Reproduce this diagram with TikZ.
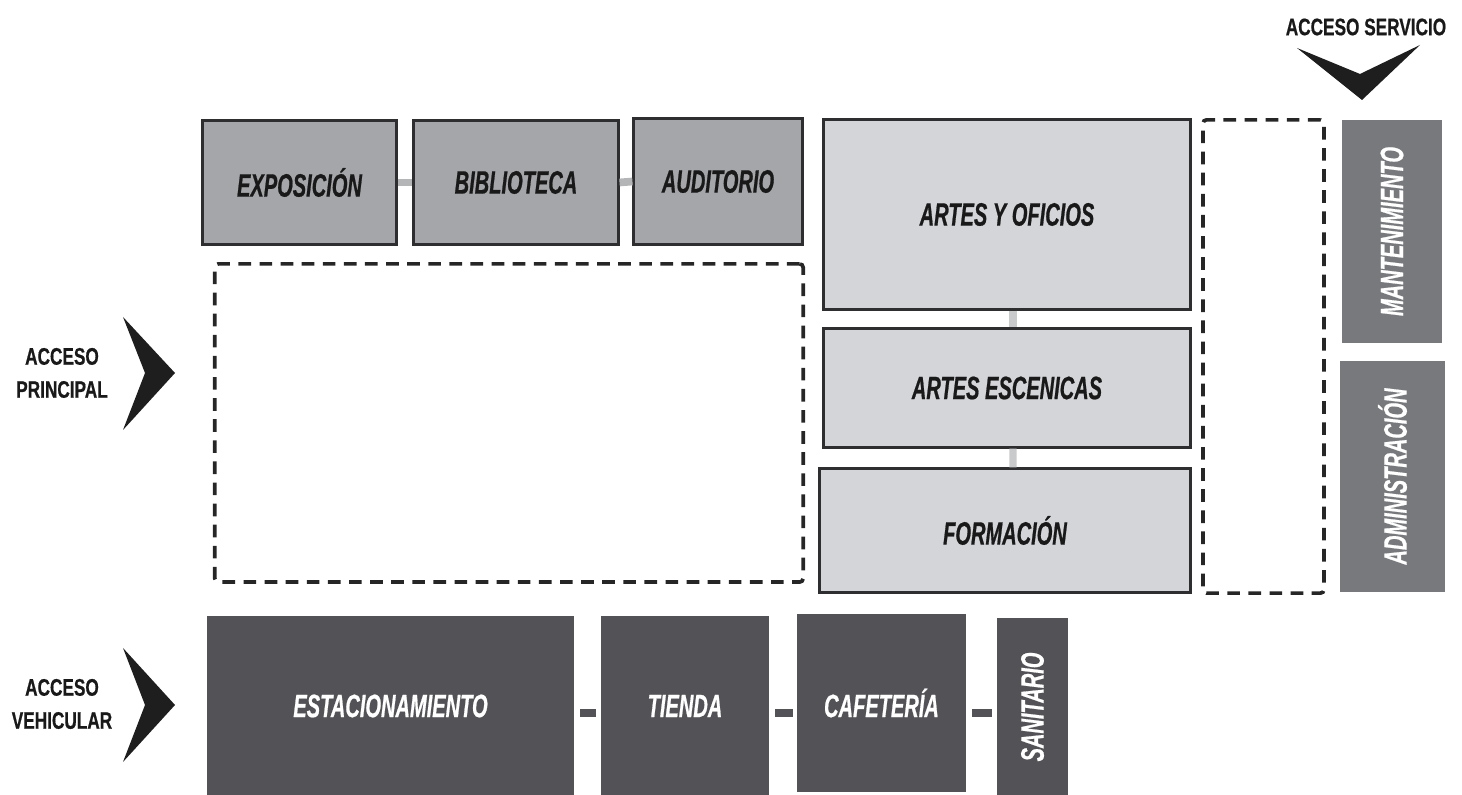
\documentclass[tikz,border=0pt]{standalone}
\usepackage{fontspec}
\newfontfamily\condfont{Liberation Sans}[FakeStretch=0.62,FakeBold=0.6]
\newfontfamily\labfont{Liberation Sans}[FakeStretch=0.72,FakeBold=0.6]
\definecolor{midgray}{HTML}{A4A6A9}
\definecolor{lightgray}{HTML}{D3D5D8}
\definecolor{sidegray}{HTML}{77797C}
\definecolor{darkbox}{HTML}{535357}
\definecolor{edgecol}{HTML}{2E2E30}
\definecolor{linkgray}{HTML}{B4B5B7}
\definecolor{linklight}{HTML}{C9CACC}
\definecolor{arrowcol}{HTML}{1E1E1E}
\begin{document}
\begin{tikzpicture}[x=0.01cm,y=-0.01cm,
  roomtxt/.style={font=\condfont\bfseries\itshape\fontsize{9.2}{10}\selectfont},
  topbox/.style={draw=edgecol,line width=0.85pt,fill=midgray,text=black!90,roomtxt,inner sep=0pt},
  artbox/.style={draw=edgecol,line width=0.85pt,fill=lightgray,text=black!90,roomtxt,inner sep=0pt},
  sidebox/.style={fill=sidegray,text=white,roomtxt,inner sep=0pt},
  lowbox/.style={fill=darkbox,text=white,roomtxt,inner sep=0pt},
  zone/.style={draw=black!85,line width=1.05pt,dash pattern=on 3.6pt off 2.4pt,rounded corners=1pt},
  link/.style={draw=linkgray,line width=2.2pt},
  vlink/.style={draw=linklight,line width=2pt},
  lowlink/.style={draw=darkbox,line width=2.2pt},
  acc/.style={font=\labfont\bfseries\fontsize{6.8}{9.4}\selectfont,align=center,text=black!90,inner sep=0pt},
  chev/.style={fill=arrowcol}]
\useasboundingbox (0,0) rectangle (1462,795);

% top row
\node[topbox,minimum width=1.93cm,minimum height=1.23cm] (expo) at (299.5,182.5) {EXPOSICIÓN};
\node[topbox,minimum width=2.04cm,minimum height=1.23cm] (bib) at (516,182.5) {BIBLIOTECA};
\node[topbox,minimum width=1.68cm,minimum height=1.25cm] (aud) at (718,181.5) {AUDITORIO};
\draw[link] (expo.east) -- (bib.west);
\draw[link] (bib.west -| bib.east) -- (aud.west);

% dashed zones
\node[zone,minimum width=5.88cm,minimum height=3.18cm] (zoneA) at (509,423) {};
\node[zone,minimum width=1.21cm,minimum height=4.73cm] (zoneB) at (1263.5,356.5) {};

% arts column
\node[artbox,minimum width=3.66cm,minimum height=1.89cm] (ayo) at (1007,214.5) {ARTES Y OFICIOS};
\node[artbox,minimum width=3.66cm,minimum height=1.18cm] (aes) at (1007,388) {ARTES ESCENICAS};
\node[artbox,minimum width=3.70cm,minimum height=1.23cm] (form) at (1005,530.5) {FORMACIÓN};
\draw[vlink] ([xshift=0.06cm]ayo.south) -- ([xshift=0.06cm]aes.north);
\draw[vlink] ([xshift=0.06cm]aes.south) -- ([xshift=0.08cm]form.north);

% side column
\node[sidebox,minimum width=1.00cm,minimum height=2.23cm] (mant) at (1392,231.5) {\rotatebox{90}{MANTENIMIENTO}};
\node[sidebox,minimum width=1.05cm,minimum height=2.31cm] (adm) at (1392.5,476.5) {\rotatebox{90}{ADMINISTRACIÓN}};

% bottom row
\node[lowbox,minimum width=3.67cm,minimum height=1.80cm] (est) at (390.5,706) {ESTACIONAMIENTO};
\node[lowbox,minimum width=1.68cm,minimum height=1.80cm] (tie) at (685,706) {TIENDA};
\node[lowbox,minimum width=1.69cm,minimum height=1.78cm] (caf) at (881.5,703) {CAFETERÍA};
\node[lowbox,minimum width=0.71cm,minimum height=1.78cm] (san) at (1032.5,707) {\rotatebox{90}{SANITARIO}};
\coordinate (l1a) at (580,713); \coordinate (l1b) at (596,713);
\coordinate (l2a) at (775,713); \coordinate (l2b) at (793,713);
\coordinate (l3a) at (972,713); \coordinate (l3b) at (992,713);
\draw[lowlink] (l1a) -- (l1b);
\draw[lowlink] (l2a) -- (l2b);
\draw[lowlink] (l3a) -- (l3b);

% access labels
\node[acc] (accp) at (62,373) {ACCESO\\PRINCIPAL};
\node[acc] (accv) at (62,704) {ACCESO\\VEHICULAR};
\node[acc] (accs) at (1366,27) {ACCESO SERVICIO};

% chevrons
\fill[chev] (123,317) -- (175,373) -- (123,430) -- (145,373) -- cycle;
\fill[chev] (123,648) -- (175,705) -- (123,762) -- (145,705) -- cycle;
\fill[chev] (1297,48) -- (1362,100) -- (1420,45) -- (1360,74) -- cycle;
\end{tikzpicture}
\end{document}
